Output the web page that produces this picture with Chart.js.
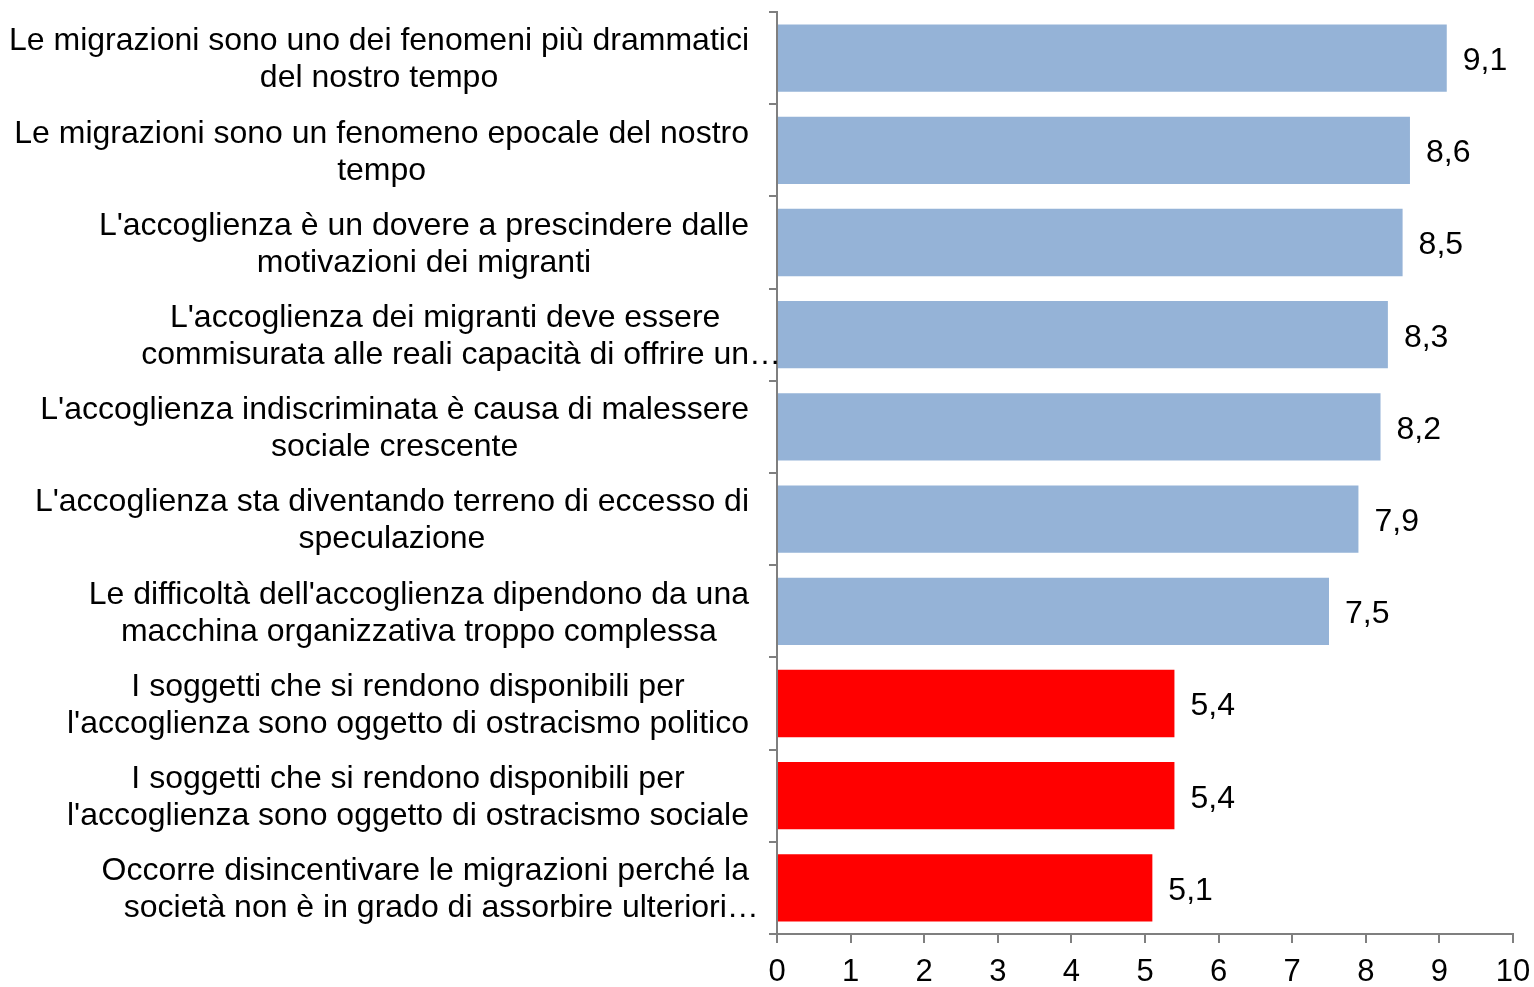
<!DOCTYPE html>
<html><head><meta charset="utf-8">
<script src="https://cdn.jsdelivr.net/npm/chart.js@4"></script>
<style>html,body{margin:0;padding:0;background:#fff}#wrap{width:1534px;height:987px}</style>
</head><body><div id="wrap"><canvas id="c" width="1534" height="987"></canvas></div>
<script>
const categories = [
 ["Le migrazioni sono uno dei fenomeni più drammatici","del nostro tempo"],
 ["Le migrazioni sono un fenomeno epocale del nostro","tempo"],
 ["L'accoglienza è un dovere a prescindere dalle","motivazioni dei migranti"],
 ["L'accoglienza dei migranti deve essere","commisurata alle reali capacità di offrire un…"],
 ["L'accoglienza indiscriminata è causa di malessere","sociale crescente"],
 ["L'accoglienza sta diventando terreno di eccesso di","speculazione"],
 ["Le difficoltà dell'accoglienza dipendono da una","macchina organizzativa troppo complessa"],
 ["I soggetti che si rendono disponibili per","l'accoglienza sono oggetto di ostracismo politico"],
 ["I soggetti che si rendono disponibili per","l'accoglienza sono oggetto di ostracismo sociale"],
 ["Occorre disincentivare le migrazioni perché la","società non è in grado di assorbire ulteriori…"]
];
const values = [9.1, 8.6, 8.5, 8.3, 8.2, 7.9, 7.5, 5.4, 5.4, 5.1];
const barColors = ["#95B3D7","#95B3D7","#95B3D7","#95B3D7","#95B3D7","#95B3D7","#95B3D7","#FF0000","#FF0000","#FF0000"];
const xTicks = [0,1,2,3,4,5,6,7,8,9,10];

const FONT = "'Liberation Sans', Arial, sans-serif";
const AXIS = "#7f7f7f";

const labelPlugin = {
  id: 'labels',
  afterDatasetsDraw(chart) {
    const ctx = chart.ctx;
    const ys = chart.scales.y;
    const meta = chart.getDatasetMeta(0);
    ctx.save();
    ctx.fillStyle = '#000';
    ctx.font = '32px ' + FONT;
    ctx.textAlign = 'left';
    ctx.textBaseline = 'middle';
    meta.data.forEach((bar, i) => {
      ctx.fillText(values[i].toFixed(1).replace('.', ','), bar.x + 16, bar.y + 3);
    });
    const right = chart.chartArea.left - 28;
    const lh = 37;
    categories.forEach((lines, i) => {
      const cy = ys.getPixelForValue(i) + 2;
      const core = lines.map(l => ctx.measureText(l.replace(/…$/, '')).width);
      const w = Math.max(...core);
      const cx = right - w / 2;
      lines.forEach((l, k) => {
        const y = cy + (k - (lines.length - 1) / 2) * lh;
        ctx.fillText(l, cx - core[k] / 2, y);
      });
    });
    ctx.restore();
  }
};

new Chart(document.getElementById('c'), {
  type: 'bar',
  data: {
    labels: categories,
    datasets: [{ data: values, backgroundColor: barColors, borderWidth: 0,
      categoryPercentage: 1, barPercentage: 0.73 }]
  },
  options: {
    indexAxis: 'y',
    responsive: false,
    animation: false,
    layout: { padding: { top: 12, right: 21, left: 0, bottom: 0 } },
    plugins: { legend: { display: false }, tooltip: { enabled: false } },
    scales: {
      y: {
        ticks: { display: false },
        grid: { drawOnChartArea: false, tickLength: 8, color: AXIS, lineWidth: 2, offset: true },
        border: { color: AXIS, width: 2 },
        afterFit(s) { s.width = 777; }
      },
      x: {
        min: 0, max: 10,
        afterBuildTicks(s) { s.ticks = xTicks.map(v => ({ value: v })); },
        ticks: { color: '#000', font: { size: 31, family: FONT }, padding: 11 },
        grid: { drawOnChartArea: false, tickLength: 9, color: AXIS, lineWidth: 2 },
        border: { color: AXIS, width: 2 },
        afterFit(s) { s.height = 53; s.paddingLeft = 0; s.paddingRight = 0; }
      }
    }
  },
  plugins: [labelPlugin]
});
</script></body></html>
